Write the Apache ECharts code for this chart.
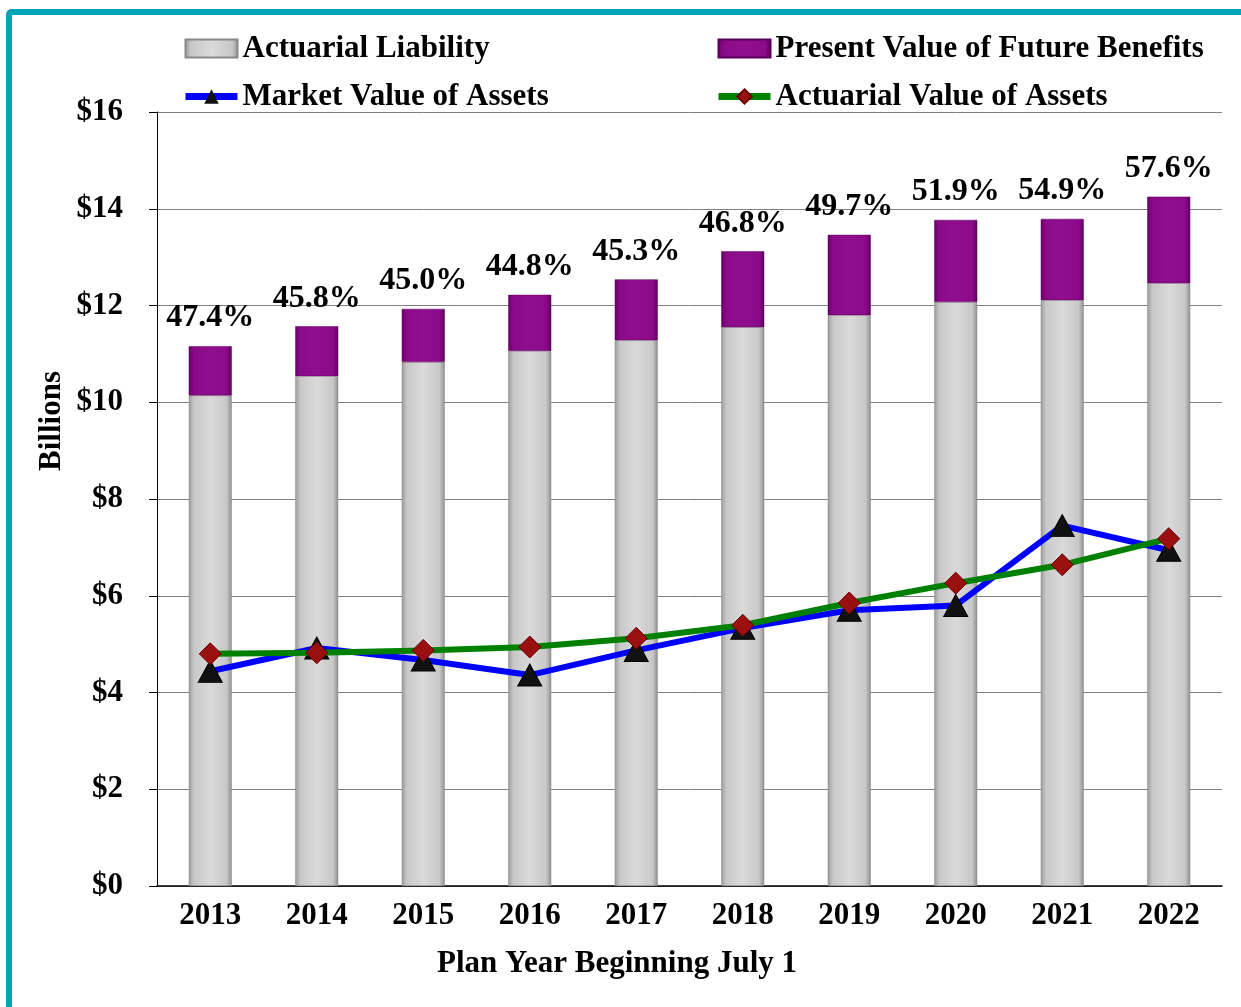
<!DOCTYPE html>
<html lang="en">
<head>
    <meta charset="utf-8">
    <title>Funded Status</title>
    <script src="https://cdn.jsdelivr.net/npm/echarts@6/dist/echarts.min.js"></script>
    <style>
        html, body { margin: 0; padding: 0; background: #fff; }
        #frame {
            position: absolute; left: 6px; top: 9px; width: 1235px; height: 998px;
            border-left: 6px solid #00A5B5; border-top: 6px solid #00A5B5;
            border-top-left-radius: 6px; box-sizing: border-box;
        }
        #main { position: absolute; left: 0; top: 0; width: 1241px; height: 1007px; }
    </style>
</head>
<body>
<div id="frame"></div>
<div id="main"></div>
<script type="text/javascript">
    // plan years
    var years = ['2013', '2014', '2015', '2016', '2017', '2018', '2019', '2020', '2021', '2022'];
    // $ billions
    var actuarialLiability = [10.14, 10.54, 10.83, 11.06, 11.28, 11.55, 11.80, 12.07, 12.11, 12.46];
    var presentValueBenefits = [11.16, 11.57, 11.93, 12.22, 12.54, 13.12, 13.46, 13.77, 13.79, 14.25];
    var marketValue = [4.44, 4.92, 4.67, 4.36, 4.87, 5.33, 5.70, 5.80, 7.45, 6.94];
    var actuarialValue = [4.80, 4.82, 4.87, 4.94, 5.12, 5.39, 5.85, 6.26, 6.64, 7.18];
    var fundedRatio = ['47.4%', '45.8%', '45.0%', '44.8%', '45.3%', '46.8%', '49.7%', '51.9%', '54.9%', '57.6%'];

    var FONT = '"Liberation Serif", "Times New Roman", serif';

    var myChart = echarts.init(document.getElementById('main'));

    var grayFill = new echarts.graphic.LinearGradient(0, 0, 1, 0, [
        {offset: 0, color: '#9a9a9a'},
        {offset: 0.12, color: '#c8c8c8'},
        {offset: 0.5, color: '#dadada'},
        {offset: 0.88, color: '#c8c8c8'},
        {offset: 1, color: '#8e8e8e'}
    ]);
    var purpleFill = new echarts.graphic.LinearGradient(0, 0, 1, 0, [
        {offset: 0, color: '#6a006a'},
        {offset: 0.12, color: '#8a0a8a'},
        {offset: 0.5, color: '#8e0e8e'},
        {offset: 0.88, color: '#8a0a8a'},
        {offset: 1, color: '#600060'}
    ]);

    var legendText = {fontFamily: FONT, fontWeight: 'bold', fontSize: 31, color: '#000'};
    var boldText = {fontFamily: FONT, fontWeight: 'bold', fontSize: 31, fill: '#000'};

    var option = {
        animation: false,
        backgroundColor: 'transparent',
        textStyle: {fontFamily: FONT},
        legend: [{
            left: 177, top: 28, orient: 'vertical', itemGap: 17,
            itemWidth: 52, itemHeight: 18,
            textStyle: legendText,
            lineStyle: {width: 7},
            data: [{name: 'Actuarial Liability', icon: 'rect'}, 'Market Value of Assets']
        }, {
            left: 710, top: 28, orient: 'vertical', itemGap: 17,
            itemWidth: 52, itemHeight: 18,
            textStyle: legendText,
            lineStyle: {width: 7},
            data: [{name: 'Present Value of Future Benefits', icon: 'rect'}, 'Actuarial Value of Assets']
        }],
        grid: {left: 157, right: 19, top: 112, bottom: 121},
        graphic: [{
            type: 'text', left: 437, top: 948,
            style: Object.assign({text: 'Plan Year Beginning July 1'}, boldText)
        }, {
            type: 'text', x: 52, y: 421, rotation: Math.PI / 2,
            style: Object.assign({text: 'Billions', textAlign: 'center', textVerticalAlign: 'middle'}, boldText)
        }],
        xAxis: {
            type: 'category',
            data: years,
            axisLine: {lineStyle: {color: '#000', width: 1.5}},
            axisTick: {show: false},
            axisLabel: {fontFamily: FONT, fontWeight: 'bold', fontSize: 31, color: '#000', margin: 14}
        },
        yAxis: {
            type: 'value',
            min: 0, max: 16, interval: 2,
            axisLine: {show: true, lineStyle: {color: '#000', width: 1}},
            axisTick: {show: true, length: 8, lineStyle: {color: '#000'}},
            axisLabel: {
                fontFamily: FONT, fontWeight: 'bold', fontSize: 31, color: '#000', margin: 34,
                formatter: function (v) { return '$' + v; }
            },
            splitLine: {lineStyle: {color: '#808080', width: 1}}
        },
        series: [{
            name: 'Actuarial Liability',
            type: 'bar',
            stack: 'liab',
            barWidth: 43,
            itemStyle: {color: grayFill, borderColor: '#888', borderWidth: 0.5},
            data: actuarialLiability
        }, {
            name: 'Present Value of Future Benefits',
            type: 'bar',
            stack: 'liab',
            barWidth: 43,
            itemStyle: {color: purpleFill, borderColor: '#5a005a', borderWidth: 0.5},
            label: {
                show: true,
                position: 'top',
                distance: 12,
                fontFamily: FONT, fontWeight: 'bold', fontSize: 32, color: '#000',
                formatter: function (p) { return fundedRatio[p.dataIndex]; }
            },
            data: presentValueBenefits.map(function (v, i) {
                return +(v - actuarialLiability[i]).toFixed(2);
            })
        }, {
            name: 'Market Value of Assets',
            type: 'line',
            symbol: 'triangle',
            symbolSize: [24, 22],
            z: 5,
            lineStyle: {color: '#0000FF', width: 6},
            itemStyle: {color: '#111', borderColor: '#000'},
            data: marketValue
        }, {
            name: 'Actuarial Value of Assets',
            type: 'line',
            symbol: 'diamond',
            symbolSize: [22, 22],
            z: 6,
            lineStyle: {color: '#008000', width: 6},
            itemStyle: {color: '#9a1010', borderColor: '#6a0000', borderWidth: 1},
            data: actuarialValue
        }]
    };

    myChart.setOption(option);
</script>
</body>
</html>
